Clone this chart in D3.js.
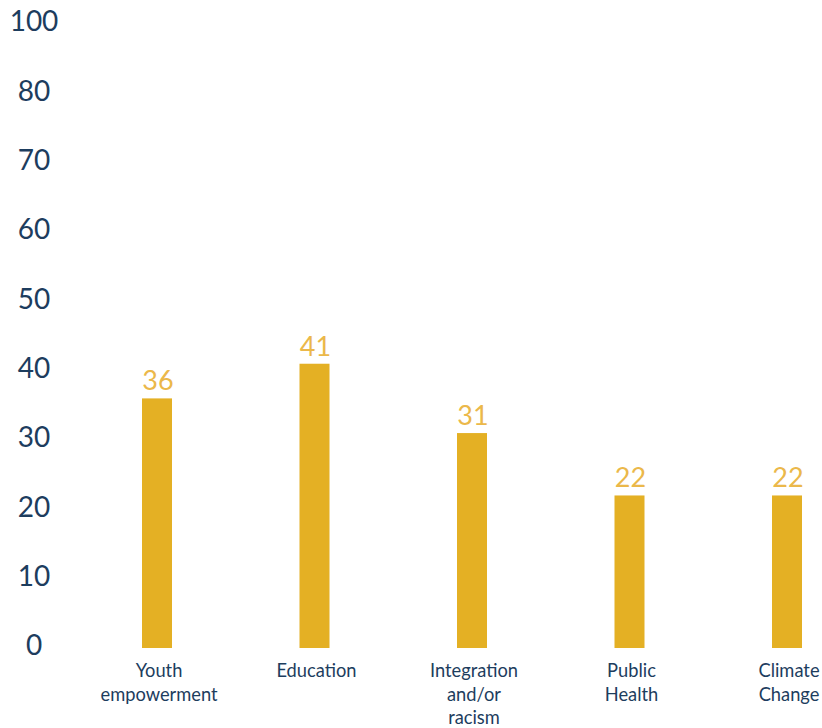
<!DOCTYPE html>
<html>
<head>
<meta charset="utf-8">
<script src="https://cdn.jsdelivr.net/npm/d3@7"></script>
<style>
  html, body { margin: 0; padding: 0; background: #ffffff; }
  svg { display: block; font-family: Lato, "Open Sans", sans-serif; }
</style>
</head>
<body>
<svg id="chart" width="822" height="728"></svg>
<script>
// Share of respondents by topic
const categories = [
  ["Youth", "empowerment"],
  ["Education"],
  ["Integration", "and/or", "racism"],
  ["Public", "Health"],
  ["Climate", "Change"]
];
const values = [36, 41, 31, 22, 22];

// Axis slots and the labels printed beside them
const tickValues = [0, 10, 20, 30, 40, 50, 60, 70, 80, 90];
const tickLabels = ["0", "10", "20", "30", "40", "50", "60", "70", "80", "100"];

const navy = "#1d3d5e";
const barColor = "#e4b024";
const valueColor = "#ebb84a";

const svg = d3.select("#chart");
const keys = categories.map(c => c.join(" "));

const y = d3.scaleLinear().domain([0, 90]).range([648, 24]);
const x = d3.scalePoint().domain(keys).range([157, 787]);
const barWidth = 30;

// Y axis: labels only, no line or tick marks
const yAxis = d3.axisLeft(y)
  .tickValues(tickValues)
  .tickSize(0)
  .tickPadding(0)
  .tickFormat((d, i) => tickLabels[i]);

const gy = svg.append("g")
  .attr("transform", "translate(34,0)")
  .call(yAxis);
gy.select(".domain").remove();
gy.selectAll("text")
  .attr("x", 0)
  .attr("y", -2)
  .attr("text-anchor", "middle")
  .attr("fill", navy)
  .style("font-family", "Lato, sans-serif")
  .style("font-size", "28px");

// Bars
svg.append("g").selectAll("rect")
  .data(values)
  .join("rect")
  .attr("x", (d, i) => x(keys[i]) - barWidth / 2)
  .attr("y", d => y(d))
  .attr("width", barWidth)
  .attr("height", d => y(0) - y(d))
  .attr("fill", barColor);

// Value labels above bars
svg.append("g").selectAll("text")
  .data(values)
  .join("text")
  .attr("x", (d, i) => x(keys[i]) + 1)
  .attr("y", d => y(d) - 8)
  .attr("text-anchor", "middle")
  .attr("fill", valueColor)
  .style("font-size", "27px")
  .text(d => d);

// Category labels, one tspan per line
const cat = svg.append("g").selectAll("text")
  .data(categories)
  .join("text")
  .attr("x", (d, i) => x(keys[i]) + 2)
  .attr("y", 677)
  .attr("text-anchor", "middle")
  .attr("fill", navy)
  .style("font-size", "18.3px");

cat.selectAll("tspan")
  .data(d => d)
  .join("tspan")
  .attr("x", function () { return this.parentNode.getAttribute("x"); })
  .attr("dy", (d, i) => i === 0 ? 0 : 23.5)
  .text(d => d);
</script>
</body>
</html>
